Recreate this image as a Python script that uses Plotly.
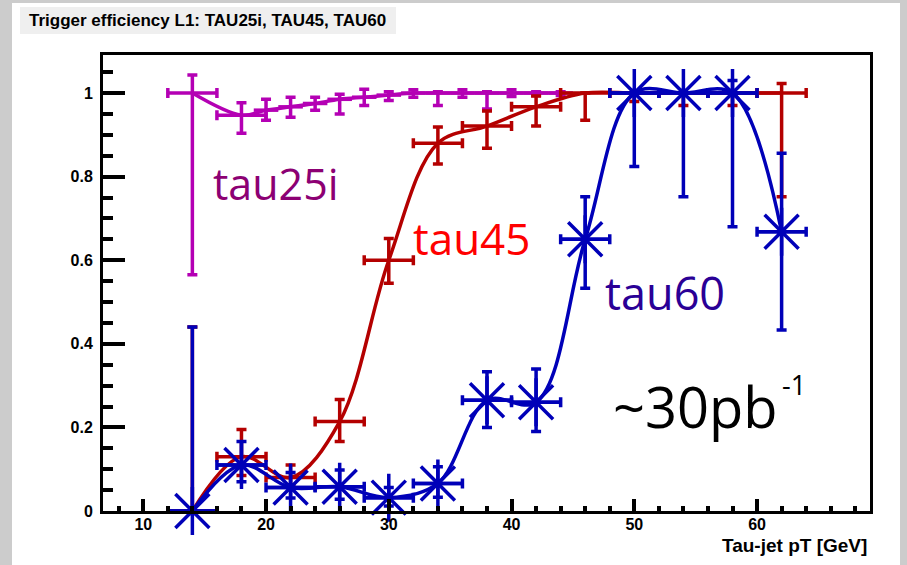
import plotly.graph_objects as go

# ---- page geometry (pixels) ----
W, H = 907, 565
ML, MR, MT, MB = 103, 37, 55, 54
PW, PH = W - ML - MR, H - MT - MB


def fx(p):
    """page x pixel -> paper fraction"""
    return (p - ML) / PW


def fy(p):
    """page y pixel -> paper fraction"""
    return (H - MB - p) / PH


# ---- data ----
# TAU25i: first two bins are 4 GeV wide, the rest 2 GeV
pt_25i_wide = [14, 18]
eff_25i_wide = [1.0, 0.947]
up_25i_wide = [0.043, 0.030]
dn_25i_wide = [0.435, 0.043]
bin_25i_wide = [2, 2]

pt_25i = [20, 22, 24, 26, 28, 30, 32, 34, 36, 38, 40, 42, 44]
eff_25i = [0.959, 0.967, 0.975, 0.985, 0.990, 0.995, 1.0, 1.0, 1.0, 1.0, 1.0, 1.0, 1.0]
up_25i = [0.026, 0.023, 0.015, 0.012, 0.019, 0.008, 0.008, 0.003, 0.008, 0.003, 0.008, 0.003, 0.003]
dn_25i = [0.024, 0.025, 0.016, 0.035, 0.020, 0.013, 0.010, 0.030, 0.010, 0.038, 0.008, 0.006, 0.006]
bin_25i = [1] * len(pt_25i)

# TAU45
pt_45 = [14, 18, 22, 26, 30, 34, 38, 42, 46, 50, 54, 58, 62]
eff_45 = [0.0, 0.13, 0.08, 0.214, 0.600, 0.880, 0.921, 0.967, 1.0, 1.0, 1.0, 1.0, 1.0]
up_45 = [0.44, 0.065, 0.03, 0.053, 0.052, 0.039, 0.036, 0.026, 0.0, 0.0, 0.0, 0.0, 0.023]
dn_45 = [0.0, 0.045, 0.02, 0.048, 0.055, 0.050, 0.053, 0.046, 0.065, 0.02, 0.03, 0.03, 0.248]
bin_45 = [2] * len(pt_45)

# TAU60
pt_60 = [14, 18, 22, 26, 30, 34, 38, 42, 46, 50, 54, 58, 62]
eff_60 = [0.0, 0.11, 0.056, 0.058, 0.032, 0.066, 0.265, 0.26, 0.650, 1.0, 1.0, 1.0, 0.668]
up_60 = [0.44, 0.056, 0.036, 0.040, 0.024, 0.040, 0.068, 0.080, 0.102, 0.0, 0.0, 0.03, 0.188]
dn_60 = [0.0, 0.040, 0.025, 0.030, 0.020, 0.033, 0.065, 0.070, 0.117, 0.176, 0.248, 0.320, 0.235]
bin_60 = [2] * len(pt_60)

C_25I = "#b400b4"
C_45 = "#b40000"
C_60 = "#0000b8"

X_RANGE = [6.72, 69.2]
Y_RANGE = [0, 1.091]

LW = 3.5
CAP = 5


def curve(xs, ys, color):
    return go.Scatter(
        x=xs, y=ys, mode="lines",
        line=dict(color=color, width=LW, shape="spline", smoothing=1.0),
        hoverinfo="skip", showlegend=False,
    )


def errors(xs, ys, xe, up, dn, color, xcap=CAP, marker=None):
    mk = marker or dict(size=1, color=color)
    return go.Scatter(
        x=xs, y=ys, mode="markers", marker=mk,
        error_x=dict(type="data", array=xe, color=color, thickness=LW, width=xcap),
        error_y=dict(type="data", symmetric=False, array=up, arrayminus=dn,
                     color=color, thickness=LW, width=CAP),
        cliponaxis=False, hoverinfo="skip", showlegend=False,
    )


fig = go.Figure()

# TAU25i
fig.add_trace(curve(pt_25i_wide + pt_25i, eff_25i_wide + eff_25i, C_25I))
fig.add_trace(errors(pt_25i_wide, eff_25i_wide, bin_25i_wide, up_25i_wide, dn_25i_wide, C_25I))
fig.add_trace(errors(pt_25i, eff_25i, bin_25i, up_25i, dn_25i, C_25I, xcap=0))

# TAU45
fig.add_trace(curve(pt_45, eff_45, C_45))
fig.add_trace(errors(pt_45, eff_45, bin_45, up_45, dn_45, C_45))

# TAU60
fig.add_trace(curve(pt_60, eff_60, C_60))
fig.add_trace(errors(pt_60, eff_60, bin_60, up_60, dn_60, C_60,
                     marker=dict(symbol="asterisk-open", size=40, color=C_60,
                                 line=dict(color=C_60, width=LW))))

tick_font = dict(family="Liberation Sans", size=16, color="black", weight="bold")

fig.update_xaxes(
    range=X_RANGE, tick0=0, dtick=10, ticks="inside", ticklen=12, tickwidth=3.5,
    tickcolor="black", showline=True, linewidth=3, linecolor="black", mirror=True,
    showgrid=False, zeroline=False, tickfont=tick_font, ticklabelstandoff=-3,
    minor=dict(ticks="inside", ticklen=5, tickwidth=3.5, tickcolor="black",
               tick0=0, dtick=2, showgrid=False),
    automargin=False,
)
fig.update_yaxes(
    range=Y_RANGE, tick0=0, dtick=0.2, ticks="inside", ticklen=22, tickwidth=3.5,
    tickcolor="black", showline=True, linewidth=3, linecolor="black", mirror=True,
    showgrid=False, zeroline=False, tickfont=tick_font, ticklabelstandoff=4,
    minor=dict(ticks="inside", ticklen=10, tickwidth=3.5, tickcolor="black",
               tick0=0, dtick=0.05, showgrid=False),
    automargin=False,
)

shapes = [
    # white canvas inside the grey border
    dict(type="rect", xref="paper", yref="paper", layer="below",
         x0=fx(12), x1=fx(900), y0=fy(H + 5), y1=fy(3),
         fillcolor="white", line=dict(width=0)),
    # title strip
    dict(type="rect", xref="paper", yref="paper", layer="below",
         x0=fx(20), x1=fx(396), y0=fy(34), y1=fy(7),
         fillcolor="#efefef", line=dict(width=0)),
]

label_font = "Open Sans"
annotations = [
    dict(text="Trigger efficiency L1: TAU25i, TAU45, TAU60",
         xref="paper", yref="paper", x=fx(27), y=fy(20),
         xanchor="left", yanchor="middle", showarrow=False,
         font=dict(family="Liberation Sans", size=17, color="black", weight="bold")),
    dict(text="Tau-jet pT [GeV]",
         xref="paper", yref="paper", x=fx(869), y=fy(545),
         xanchor="right", yanchor="middle", showarrow=False,
         font=dict(family="Liberation Sans", size=19, color="black", weight="bold")),
    dict(text="tau25i", xref="paper", yref="paper", x=fx(211), y=fy(183),
         xanchor="left", yanchor="middle", showarrow=False,
         font=dict(family=label_font, size=43, color="#8c0073")),
    dict(text="tau45", xref="paper", yref="paper", x=fx(411), y=fy(238),
         xanchor="left", yanchor="middle", showarrow=False,
         font=dict(family=label_font, size=44, color="#ff0000")),
    dict(text="tau60", xref="paper", yref="paper", x=fx(603), y=fy(292),
         xanchor="left", yanchor="middle", showarrow=False,
         font=dict(family=label_font, size=45, color="#2a0096")),
    dict(text="~30pb", xref="paper", yref="paper", x=fx(611), y=fy(406),
         xanchor="left", yanchor="middle", showarrow=False,
         font=dict(family=label_font, size=56, color="black")),
    dict(text="-1", xref="paper", yref="paper", x=fx(780), y=fy(384),
         xanchor="left", yanchor="middle", showarrow=False,
         font=dict(family=label_font, size=27, color="black")),
]

fig.update_layout(
    template="none",
    width=W, height=H,
    margin=dict(l=ML, r=MR, t=MT, b=MB, pad=0),
    paper_bgcolor="#cccccc",
    plot_bgcolor="white",
    showlegend=False,
    shapes=shapes,
    annotations=annotations,
)

fig.write_html("out.html")
